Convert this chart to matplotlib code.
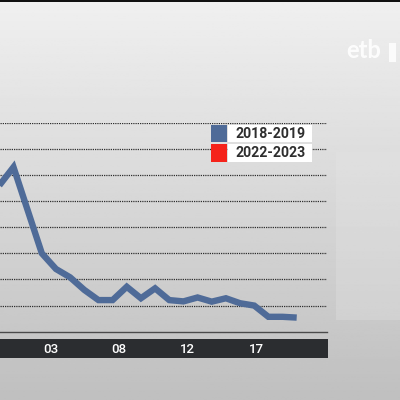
import numpy as np
import matplotlib
matplotlib.use('Agg')
import matplotlib.pyplot as plt
from matplotlib.patches import Rectangle

x_pos = [-1, 0, 1, 2, 3, 4, 5, 6, 7, 8, 9, 10, 11, 12, 13, 14, 15, 16, 17, 18, 19, 20]
values_2018 = [5.6, 6.3, 4.65, 3.0, 2.4, 2.08, 1.6, 1.21, 1.21, 1.72, 1.28, 1.66,
               1.21, 1.16, 1.31, 1.15, 1.28, 1.09, 1.0, 0.57, 0.57, 0.54]
tick_pos = [2.63, 7.45, 12.27, 17.1]
tick_labels = ['03', '08', '12', '17']
series_names = ['2018-2019', '2022-2023']
series_colors = ['#4f6b98', '#f5231b']

W = H = 400.0
fig = plt.figure(figsize=(4, 4), dpi=100)

# background: grey photo approximated by a vertical gradient
bg = fig.add_axes([0, 0, 1, 1], zorder=0)
grad = np.linspace(0.94, 0.75, 256).reshape(-1, 1)
bg.imshow(grad, cmap='gray', vmin=0, vmax=1, aspect='auto', extent=[0, 1, 0, 1])
bg.add_patch(Rectangle((0.84, 0.2), 0.16, 0.42, color='#e6e6e6', alpha=0.3, lw=0))
bg.add_patch(Rectangle((0.0, 0.995), 1, 0.005, color='#111111', lw=0))
bg.set_xlim(0, 1)
bg.set_ylim(0, 1)
bg.axis('off')

# logo
fig.text(346 / W, 1 - 51 / H, 'etb', color='white', fontsize=17, fontweight='bold',
         family='Lato', va='center', ha='left', alpha=0.9)
fig.patches.append(Rectangle((389 / W, 1 - 62 / H), 7 / W, 19 / H, transform=fig.transFigure,
                             color='white', alpha=0.85, lw=0))

# main plot
left, right = 0.0, 327 / W
bottom, top = 1 - 331.7 / H, 1 - 122.7 / H
ax = fig.add_axes([left, bottom, right - left, top - bottom], zorder=2)
ax.patch.set_alpha(0)
ax.set_xlim(-0.953, 22.14)
ax.set_ylim(0, 8)
for g in range(1, 9):
    ax.axhline(g, color='#2e2e2e', lw=0.9, ls=(0, (1, 0.8)), zorder=1)
ax.plot(x_pos, values_2018, color=series_colors[0], lw=4.6, solid_joinstyle='miter',
        solid_capstyle='butt', zorder=3)
for s in ['top', 'right', 'left']:
    ax.spines[s].set_visible(False)
ax.spines['bottom'].set_color('#4a4a4a')
ax.spines['bottom'].set_linewidth(1.0)
ax.set_xticks([])
ax.set_yticks([])

# dark label strip
bar = fig.add_axes([0.0, 1 - 358.3 / H, 327.7 / W, 19.3 / H], zorder=2)
bar.set_facecolor('#2b2d30')
bar.set_xlim(ax.get_xlim())
bar.set_ylim(0, 1)
for p, lab in zip(tick_pos, tick_labels):
    bar.text(p, 0.47, lab, color='white', fontsize=9.5, family='Roboto',
             fontweight='medium', ha='center', va='center')
bar.set_xticks([])
bar.set_yticks([])
for s in bar.spines.values():
    s.set_visible(False)

# legend drawn by hand
row_tops = [125, 144.3]
for i, (name, col) in enumerate(zip(series_names, series_colors)):
    y0 = row_tops[i]
    fig.patches.append(Rectangle((211 / W, 1 - (y0 + 17.4) / H), 15.7 / W, 17.4 / H,
                                 transform=fig.transFigure, color=col, lw=0, zorder=5))
    fig.patches.append(Rectangle((228 / W, 1 - (y0 + 17.4) / H), 83.7 / W, 17.4 / H,
                                 transform=fig.transFigure, color='white', lw=0, zorder=5))
    fig.text(235 / W, 1 - (y0 + 8.9) / H, name, color='#2e2e2e', fontsize=10.2,
             family='Roboto', fontweight='bold', va='center', ha='left', zorder=6)

fig.savefig('out.png', dpi=100)
